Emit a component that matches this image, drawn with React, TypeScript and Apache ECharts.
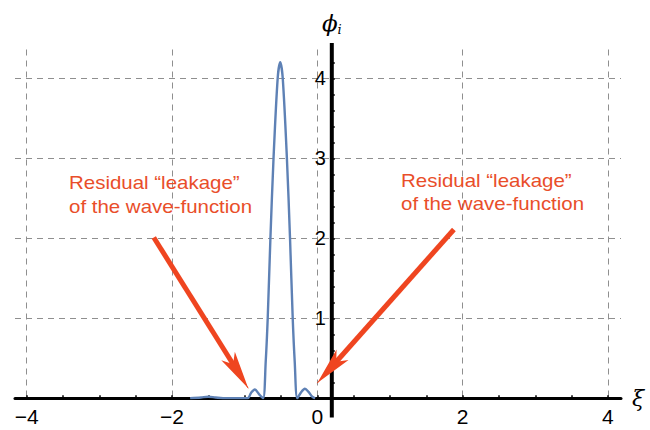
import React, { useEffect, useRef } from "react";
import * as echarts from "echarts";

// Sampled wave-function profile: ξ positions and φ_i values
const xi = [
  -1.75, -1.6, -1.5, -1.4, -1.25, -0.96, -0.91, -0.86, -0.8, -0.745, -0.71, -0.682, -0.645,
  -0.602, -0.545, -0.51, -0.475, -0.418, -0.375, -0.338, -0.31, -0.275, -0.22, -0.17, -0.12,
  -0.07, -0.03,
];
const phi = [
  0, 0.01, 0.02, 0.01, 0, 0, 0.07, 0.11, 0.05, 0, 0.45, 1.0, 2.0, 3.0, 4.0, 4.2, 4.0, 3.0, 2.0,
  1.0, 0.45, 0, 0.08, 0.12, 0.08, 0.02, 0,
];

// Axis ranges, tick marks and tick labels
const X_MIN = -4.16;
const X_MAX = 4.18;
const Y_MIN = 0;
const Y_MAX = 4.36;
const X_LABELS = [-4, -2, 0, 2, 4];
const X_TICKS = [-4, -3.5, -3, -2.5, -2, -1.5, -1, -0.5, 0, 0.5, 1, 1.5, 2, 2.5, 3, 3.5, 4];
const Y_LABELS = [1, 2, 3, 4];
const Y_TICKS = [
  0.2, 0.4, 0.6, 0.8, 1, 1.2, 1.4, 1.6, 1.8, 2, 2.2, 2.4, 2.6, 2.8, 3, 3.2, 3.4, 3.6, 3.8, 4, 4.2,
];

// The vertical axis crosses the ξ axis here and runs past both ends of the plot range
const Y_AXIS_AT = 0.2;
const Y_AXIS_LINE = [
  [Y_AXIS_AT, -0.24],
  [Y_AXIS_AT, 4.44],
];

// Annotation arrows: [tail, tip] in (ξ, φ_i); the shaft stops inside the head
const LEFT_ARROW = [
  [-2.25, 2.01],
  [-0.95, 0.125],
];
const RIGHT_ARROW = [
  [1.88, 2.11],
  [0.0, 0.19],
];
const LEFT_NECK = 0.12;
const RIGHT_NECK = 0.105;
const NOTE = "Residual \u201cleakage\u201d\nof the wave-function";

const W = 650;
const H = 430;
const GRID = { left: 15, right: 29, top: 49.5, bottom: 31.7 };
const RED = "#EF4520";
const TEXT_RED = "#E94E2A";
const CURVE = "#5E81B5";
const GRID_LINE = { color: "#8f8f8f", width: 1, type: [6, 5] as number[] };

export default function App() {
  const ref = useRef<HTMLDivElement | null>(null);

  useEffect(() => {
    if (!ref.current) return;
    const chart = echarts.init(ref.current, null, { renderer: "svg" });

    const gridWidth = W - GRID.left - GRID.right;
    const yAxisOffset = -((Y_AXIS_AT - X_MIN) / (X_MAX - X_MIN)) * gridWidth;

    // point on the arrow, a fraction f of the way back from the tip towards the tail
    const along = (arrow: number[][], f: number) => [
      arrow[1][0] + (arrow[0][0] - arrow[1][0]) * f,
      arrow[1][1] + (arrow[0][1] - arrow[1][1]) * f,
    ];

    const tickFormatter = (v: number) => String(v).replace("-", "\u2212");

    const shaft = (arrow: number[][], f: number) => [
      { coord: arrow[0] },
      { coord: along(arrow, f) },
    ];
    const head = (arrow: number[][], f: number) => [
      { coord: along(arrow, f) },
      { coord: arrow[1] },
    ];

    chart.setOption({
      animation: false,
      backgroundColor: "#ffffff",
      grid: {
        left: GRID.left,
        right: GRID.right,
        top: GRID.top,
        bottom: GRID.bottom,
        containLabel: false,
        outerBoundsMode: "none",
      },
      xAxis: [
        {
          type: "value",
          min: X_MIN,
          max: X_MAX,
          z: 1,
          name: "\u03be",
          nameLocation: "end",
          nameGap: 11,
          nameTextStyle: {
            fontFamily: "DejaVu Serif",
            fontStyle: "italic",
            fontSize: 22,
            color: "#000",
            verticalAlign: "middle",
          },
          axisLine: { show: true, onZero: true, lineStyle: { color: "#000", width: 3 } },
          axisTick: {
            show: true,
            inside: true,
            length: 3,
            customValues: X_TICKS,
            lineStyle: { color: "#000", width: 1.5 },
          },
          axisLabel: {
            customValues: X_LABELS,
            formatter: tickFormatter,
            fontFamily: "Liberation Sans",
            fontSize: 21,
            lineHeight: 21,
            color: "#000",
            margin: 8,
          },
          splitLine: { show: false },
        },
        {
          type: "value",
          min: X_MIN,
          max: X_MAX,
          position: "top",
          axisLine: { show: false },
          axisTick: { show: false, customValues: X_LABELS },
          axisLabel: { show: false },
          splitLine: { show: true, lineStyle: GRID_LINE },
        },
      ],
      yAxis: [
        {
          type: "value",
          min: Y_MIN,
          max: Y_MAX,
          position: "left",
          offset: yAxisOffset,
          name: "{p|\u03d5}{s|i}",
          nameLocation: "end",
          nameGap: 14,
          nameTextStyle: {
            align: "center",
            rich: {
              p: {
                fontFamily: "DejaVu Serif",
                fontStyle: "italic",
                fontSize: 23,
                color: "#000",
                lineHeight: 26,
              },
              s: {
                fontFamily: "DejaVu Serif",
                fontStyle: "italic",
                fontSize: 13,
                color: "#000",
                lineHeight: 15,
                verticalAlign: "bottom",
              },
            },
          },
          axisLine: { show: false, onZero: false },
          axisTick: {
            show: true,
            inside: true,
            length: 3,
            customValues: Y_TICKS,
            lineStyle: { color: "#000", width: 1.5 },
          },
          axisLabel: {
            customValues: Y_LABELS,
            fontFamily: "Liberation Sans",
            fontSize: 20,
            color: "#000",
            margin: 6,
          },
          splitLine: { show: false },
        },
        {
          type: "value",
          min: Y_MIN,
          max: Y_MAX,
          position: "right",
          axisLine: { show: false, onZero: false },
          axisTick: { show: false, customValues: Y_LABELS },
          axisLabel: { show: false },
          splitLine: { show: true, lineStyle: GRID_LINE },
        },
      ],
      series: [
        {
          name: "wave",
          type: "line",
          xAxisIndex: 0,
          yAxisIndex: 0,
          data: xi.map((x, i) => [x, phi[i]]),
          showSymbol: false,
          smooth: 0.3,
          lineStyle: { color: CURVE, width: 2.4 },
          z: 3,
          silent: true,
        },
        {
          name: "axis",
          type: "line",
          xAxisIndex: 0,
          yAxisIndex: 0,
          data: Y_AXIS_LINE,
          clip: false,
          showSymbol: false,
          lineStyle: { color: "#000", width: 4 },
          z: 4,
          silent: true,
        },
        {
          name: "arrow shafts",
          type: "line",
          xAxisIndex: 0,
          yAxisIndex: 0,
          data: [],
          z: 5,
          markLine: {
            silent: true,
            symbol: ["none", "none"],
            label: { show: false },
            lineStyle: { color: RED, width: 5, type: "solid", cap: "butt" },
            emphasis: { disabled: true },
            data: [shaft(LEFT_ARROW, LEFT_NECK), shaft(RIGHT_ARROW, RIGHT_NECK)],
          },
        },
        {
          name: "arrow heads",
          type: "line",
          xAxisIndex: 0,
          yAxisIndex: 0,
          data: [],
          z: 6,
          markLine: {
            silent: true,
            symbol: ["none", "arrow"],
            symbolSize: [12, 38],
            label: { show: false },
            lineStyle: { color: RED, width: 1, type: "solid" },
            emphasis: { disabled: true },
            data: [head(LEFT_ARROW, LEFT_NECK), head(RIGHT_ARROW, RIGHT_NECK)],
          },
        },
      ],
      graphic: [
        {
          type: "text",
          x: 69,
          y: 195,
          scaleX: 1.17,
          z: 10,
          style: {
            text: NOTE,
            fill: TEXT_RED,
            fontFamily: "Liberation Sans",
            fontSize: 17.5,
            lineHeight: 23.4,
            align: "left",
            verticalAlign: "middle",
          },
        },
        {
          type: "text",
          x: 401,
          y: 192.7,
          scaleX: 1.17,
          z: 10,
          style: {
            text: NOTE,
            fill: TEXT_RED,
            fontFamily: "Liberation Sans",
            fontSize: 17.5,
            lineHeight: 23.4,
            align: "left",
            verticalAlign: "middle",
          },
        },
      ],
    });

    return () => chart.dispose();
  }, []);

  return (
    <div
      ref={ref}
      style={{ position: "fixed", left: 0, top: 0, width: W, height: H, background: "#fff" }}
    />
  );
}
